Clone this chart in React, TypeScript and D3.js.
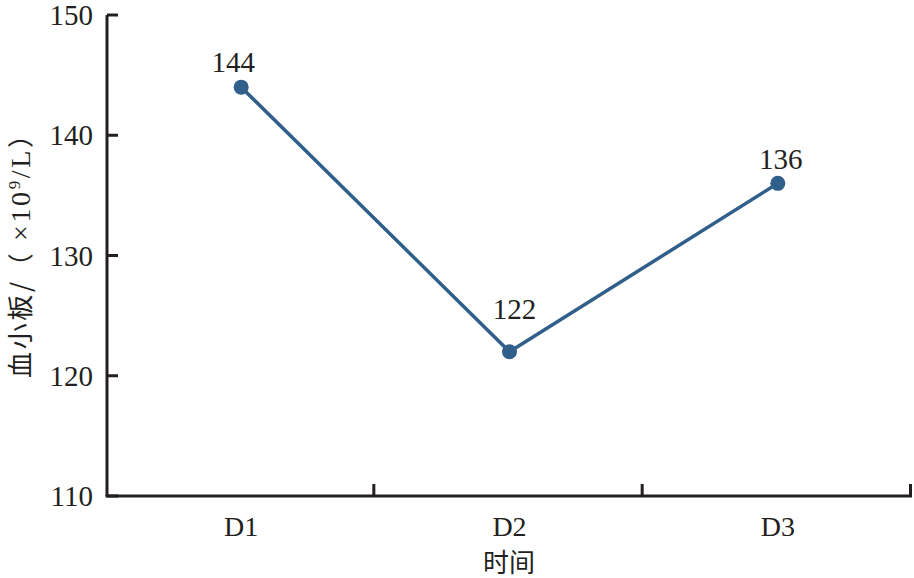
import React from "react";
import * as d3 from "d3";

const categories = ["D1", "D2", "D3"];
const values = [144, 122, 136];
const yTicks = [110, 120, 130, 140, 150];
const labelDy = [-15, -33, -14];
const labelDx = [-8, 5, 3];

const W = 914, H = 578;
const m = { left: 107, right: 2, top: 15, bottom: 82 };

export default function App() {
  const x = d3.scaleBand<string>().domain(categories).range([m.left, W - m.right]).padding(0);
  const y = d3.scaleLinear().domain([110, 150]).range([H - m.bottom, m.top]);
  const cx = (c: string) => (x(c) as number) + x.bandwidth() / 2;
  const line = d3.line<number>().x((_, i) => cx(categories[i])).y((v) => y(v));
  const font = "'Liberation Serif', 'DejaVu Serif', 'Times New Roman', serif";
  const cjk = "'Noto Sans CJK SC', sans-serif";
  const axisColor = "#231f20";
  const blue = "#2f5f8a";
  const y0 = y(110);
  const boundaries = [m.left, ...categories.map((c) => (x(c) as number) + x.bandwidth())];
  return (
    <div style={{ position: "absolute", left: 0, top: 0 }}>
      <svg width={W} height={H} style={{ display: "block", background: "#fff" }}>
        <line x1={m.left} x2={m.left} y1={y(150)} y2={y0} stroke={axisColor} strokeWidth={3} />
        <line x1={m.left - 1.5} x2={W - m.right} y1={y0} y2={y0} stroke={axisColor} strokeWidth={3} />
        {yTicks.map((t) => (
          <g key={t}>
            <line x1={m.left} x2={m.left + 11} y1={y(t)} y2={y(t)} stroke={axisColor} strokeWidth={3} />
            <text x={m.left - 14} y={y(t)} dy="0.35em" textAnchor="end" style={{ fontFamily: font }} fontSize={29} fill={axisColor}>
              {t}
            </text>
          </g>
        ))}
        {boundaries.slice(1).map((b, i) => (
          <line key={i} x1={b - 1.5} x2={b - 1.5} y1={y0} y2={y0 - 12} stroke={axisColor} strokeWidth={3} />
        ))}
        {categories.map((c) => (
          <text key={c} x={cx(c)} y={y0 + 40} textAnchor="middle" style={{ fontFamily: font }} fontSize={28} fill={axisColor}>
            {c}
          </text>
        ))}
        <text x={509} y={572} textAnchor="middle" style={{ fontFamily: cjk }} fontSize={26} fill={axisColor}>
          时间
        </text>
        <text
          transform={`translate(30, 250) rotate(-90)`}
          textAnchor="middle"
          style={{ fontFamily: cjk }}
          fontSize={26}
          fill={axisColor}
          textLength={256}
          lengthAdjust="spacing"
        >
          血小板/（<tspan style={{ fontFamily: font }} fontSize={28}> ×10</tspan>
          <tspan dy="-10" style={{ fontFamily: font }} fontSize={17}>9</tspan>
          <tspan dy="10" style={{ fontFamily: font }} fontSize={28}>/L</tspan>）
        </text>
        <path d={line(values) || ""} fill="none" stroke={blue} strokeWidth={3.5} />
        {values.map((v, i) => (
          <g key={i}>
            <circle cx={cx(categories[i])} cy={y(v)} r={7.5} fill={blue} />
            <text
              x={cx(categories[i]) + labelDx[i]}
              y={y(v) + labelDy[i]}
              textAnchor="middle"
              style={{ fontFamily: font }}
              fontSize={29}
              fill={axisColor}
            >
              {v}
            </text>
          </g>
        ))}
      </svg>
    </div>
  );
}
